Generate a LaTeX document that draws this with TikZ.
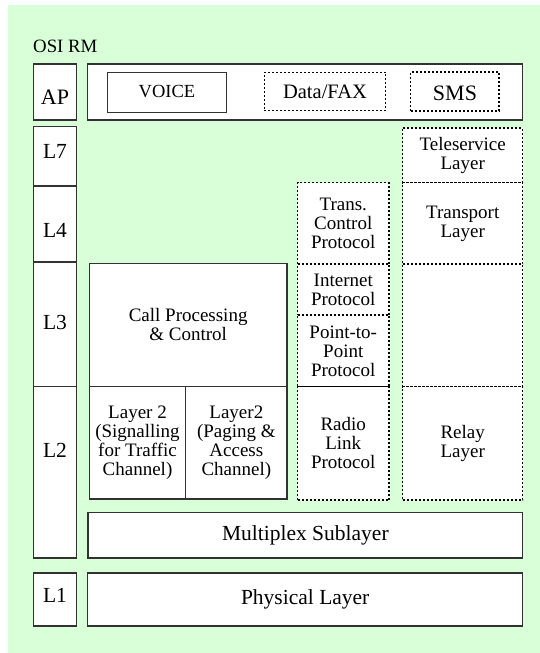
\documentclass[tikz,border=0pt]{standalone}
\usepackage{fontspec}
\setmainfont{Liberation Serif}
\usetikzlibrary{fit}
\definecolor{panelgreen}{RGB}{216,255,216}
\definecolor{edgegray}{RGB}{50,50,50}
\tikzset{
  solidbox/.style={draw=edgegray, line width=1.2pt, fill=white, inner sep=0pt, outer sep=0pt},
  dotbox/.style={draw=black, line width=1.2pt, dash pattern=on 2pt off 2pt, fill=white, inner sep=0pt, outer sep=0pt},
  smalltxt/.style={font=\fontsize{19}{19}\selectfont, align=center},
  bigtxt/.style={font=\fontsize{21.5}{21.5}\selectfont},
  layertag/.style={font=\fontsize{21.5}{21.5}\selectfont, anchor=base, inner sep=0pt},
}
\begin{document}
\begin{tikzpicture}[x=1pt, y=-1pt]
  \useasboundingbox (0,0) rectangle (540,653);
  % green panel
  \fill[panelgreen] (8,5) rectangle (540,653);
  \node[font=\fontsize{18.8}{18.8}\selectfont, anchor=base west, inner sep=0pt] (osi) at (33,52) {OSI RM};

  % OSI layer column
  \node[solidbox, fit={(33.3,64) (76.7,120)}] (ap) {};
  \node[solidbox, fit={(33.3,126.7) (76.7,186)}] (l7) {};
  \node[solidbox, fit={(33.3,186) (76.7,262)}] (l4) {};
  \node[solidbox, fit={(33.3,262) (76.7,386.7)}] (l3) {};
  \node[solidbox, fit={(33.3,386.7) (76.7,558)}] (l2) {};
  \node[solidbox, fit={(33.3,573) (76.7,626)}] (l1) {};
  \node[layertag, font=\fontsize{22}{22}\selectfont] (aptag) at (55,104) {AP};
  \node[layertag] (l7tag) at (55,158) {L7};
  \node[layertag] (l4tag) at (55,237) {L4};
  \node[layertag] (l3tag) at (55,329) {L3};
  \node[layertag] (l2tag) at (55,457) {L2};
  \node[layertag] (l1tag) at (55,602) {L1};

  % application row
  \node[solidbox, fit={(87.7,64) (522.7,120)}] (apps) {};
  \node[solidbox, fit={(107.3,72.3) (226.7,112.7)}] (voice) {};
  \node[font=\fontsize{18.5}{18.5}\selectfont, anchor=base, inner sep=0pt] (voicetxt) at (167,97.7) {VOICE};
  \node[dotbox, fit={(264.3,72.3) (385.7,110.7)}] (data) {};
  \node[font=\fontsize{20.5}{20.5}\selectfont, anchor=base, inner sep=0pt] (datatxt) at (325,98.3) {Data/FAX};
  \node[dotbox, fit={(410.8,72) (499,111)}] (sms) {};
  \node[font=\fontsize{22}{22}\selectfont, anchor=base, inner sep=0pt] (smstxt) at (455,100.5) {SMS};

  % signalling stack
  \node[solidbox, smalltxt, fit={(89.3,263.3) (287,386.5)}] (callproc) {};
  \node[smalltxt] (calltxt) at (callproc.center) {Call Processing\\\& Control};
  \node[solidbox, fit={(89.3,386.5) (185.7,499)}] (l2traffic) {};
  \node[smalltxt] at (l2traffic.center) {Layer 2\\(Signalling\\for Traffic\\Channel)};
  \node[solidbox, fit={(185.7,386.5) (287,499)}] (l2paging) {};
  \node[smalltxt] at (l2paging.center) {Layer2\\(Paging \&\\Access\\Channel)};

  % packet data stack
  \node[dotbox, fit={(297.5,182.7) (389,264)}] (tcp) {};
  \node[smalltxt] at (tcp.center) {Trans.\\Control\\Protocol};
  \node[dotbox, fit={(297.5,264) (389,315)}] (ip) {};
  \node[smalltxt] at (ip.center) {Internet\\Protocol};
  \node[dotbox, fit={(297.5,315) (389,386.7)}] (ppp) {};
  \node[smalltxt] at (ppp.center) {Point-to-\\Point\\Protocol};
  \node[dotbox, fit={(297.5,386.7) (389,500)}] (rlp) {};
  \node[smalltxt] at (rlp.center) {Radio\\Link\\Protocol};

  % SMS / teleservice stack
  \node[dotbox, fit={(402.7,128) (522.7,182.7)}] (tele) {};
  \node[smalltxt] at (tele.center) {Teleservice\\Layer};
  \node[dotbox, fit={(402.7,182.7) (522.7,264)}] (transport) {};
  \node[smalltxt] at (transport.center) {Transport\\Layer};
  \node[dotbox, fit={(402.7,264) (522.7,386.7)}] (spare) {};
  \node[dotbox, fit={(402.7,386.7) (522.7,500)}] (relay) {};
  \node[smalltxt] at (relay.center) {Relay\\Layer};

  % shared lower layers
  \node[solidbox, fit={(88,512.5) (522.7,558)}] (mux) {};
  \node[bigtxt] at (mux.center) {Multiplex Sublayer};
  \node[solidbox, fit={(87.7,573) (522.7,626)}] (phy) {};
  \node[bigtxt] at (phy.center) {Physical Layer};
\end{tikzpicture}
\end{document}
